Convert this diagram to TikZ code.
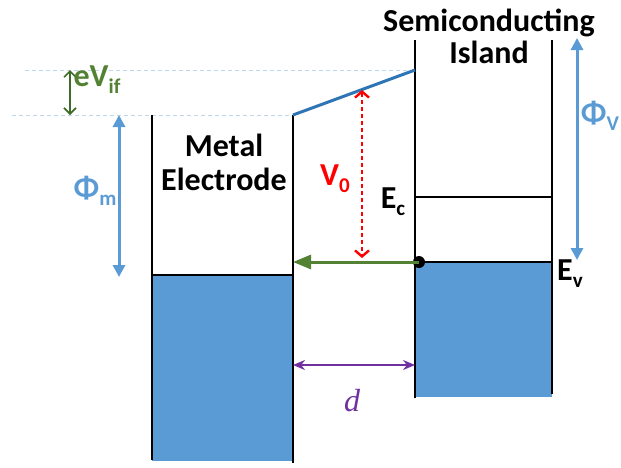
\documentclass[tikz,border=0pt]{standalone}
\usepackage{fontspec}
\setmainfont{Carlito}
\newfontfamily\timesit{Liberation Serif}
\usetikzlibrary{arrows.meta}
\definecolor{bandblue}{HTML}{5B9BD5}
\definecolor{slantblue}{HTML}{2E75B6}
\definecolor{dashblue}{HTML}{BDD7EE}
\definecolor{fermigreen}{HTML}{548235}
\definecolor{darkgreen}{HTML}{3E6B2A}
\definecolor{gappurple}{HTML}{7030A0}
\newcommand\lowsub[1]{\raisebox{-0.45ex}{\fontsize{10.5}{11}\selectfont #1}}
\tikzset{
  band/.style={line width=1.4pt,black},
  levelguide/.style={dashblue,line width=0.5pt,dash pattern=on 2pt off 1.5pt},
  bigtext/.style={font=\bfseries\fontsize{16}{18}\selectfont,align=center},
  lab/.style={font=\bfseries\fontsize{16}{18}\selectfont},
  energy/.style={bandblue,line width=1.5pt,{Triangle[length=6pt,width=6pt]}-{Triangle[length=6pt,width=6pt]}}
}
\begin{document}
\begin{tikzpicture}[x=0.5pt,y=-0.5pt]
\useasboundingbox (0,0) rectangle (621,467);

\def\mL{152}\def\mR{293}
\def\sL{415}\def\sR{552}

% filled bands
\fill[bandblue] (\mL,275) rectangle (\mR,461);
\fill[bandblue] (\sL,262) rectangle (\sR,397);

% guide lines
\coordinate (topA) at (25,70);
\coordinate (topB) at (\sL,70);
\coordinate (fermiA) at (12,115);
\coordinate (fermiB) at (\mR,115);
\draw[levelguide] (topA)--(topB);
\draw[levelguide] (fermiA)--(fermiB);

% metal electrode
\draw[band] (\mL,115)--(\mL,460);
\draw[band] (\mR,115)--(\mR,463);
\draw[band] (\mL,275)--(\mR,275);
\node[bigtext] (metal) at (224,162) {Metal\\[-1pt]Electrode};

% semiconducting island
\draw[band] (\sL,40)--(\sL,398);
\draw[band] (\sR,40)--(\sR,394);
\coordinate (ec) at (\sL,197);
\coordinate (ev) at (\sL,262);
\draw[band,line width=1pt] (ec)--(\sR,197);
\draw[band] (ev)--(\sR,262);
\node[bigtext] (island) at (489,36) {Semiconducting\\[-2pt]Island};

% vacuum level
\draw[slantblue,line width=1.5pt] (fermiB)--(topB);

% eV_if
\coordinate (vifA) at (70,70);
\coordinate (vifB) at (70,115);
\draw[darkgreen,line width=0.8pt,{Straight Barb[length=3pt,width=6pt]}-{Straight Barb[length=3pt,width=6pt]}] (vifA)--(vifB);
\node[lab,fermigreen] (vif) at (97,80) {eV\lowsub{if}};

% work functions
\coordinate (phimA) at (119,115);
\coordinate (phimB) at (119,277);
\draw[energy] (phimA)--(phimB);
\node[lab,bandblue] (phim) at (95,191) {Φ\lowsub{m}};

\coordinate (phivA) at (577,38);
\coordinate (phivB) at (577,260);
\draw[energy] (phivA)--(phivB);
\node[lab,bandblue] (phiv) at (600,116) {Φ\lowsub{V}};

% barrier V_0
\coordinate (vtop) at (362,90);
\coordinate (vbot) at (362,258);
\draw[red,line width=1.2pt,dash pattern=on 2pt off 1.5pt,{Straight Barb[length=3pt,width=7pt]}-{Straight Barb[length=3pt,width=7pt]}] (vtop)--(vbot);
\node[lab,red] (v0) at (335,179) {V\lowsub{0}};

% level labels
\node[lab] (eclab) at (393,202) {E\lowsub{c}};
\node[lab] (evlab) at (570,274) {E\lowsub{v}};

% tunnelling arrow
\node[circle,fill=black,inner sep=0pt,minimum size=6pt] (dot) at (419,262) {};
\coordinate (metalside) at (\mR,262);
\draw[fermigreen,line width=1.5pt,-{Triangle[length=9pt,width=7pt]}] (dot.center)--(metalside);

% gap
\coordinate (gapA) at (\mR,365);
\coordinate (gapB) at (\sL,365);
\draw[gappurple,line width=1pt,{Stealth[length=6pt,width=5pt]}-{Stealth[length=6pt,width=5pt]}] (gapA)--(gapB);
\node[gappurple,font=\timesit\itshape\fontsize{16}{18}\selectfont] (dlab) at (352,401) {d};

\end{tikzpicture}
\end{document}
